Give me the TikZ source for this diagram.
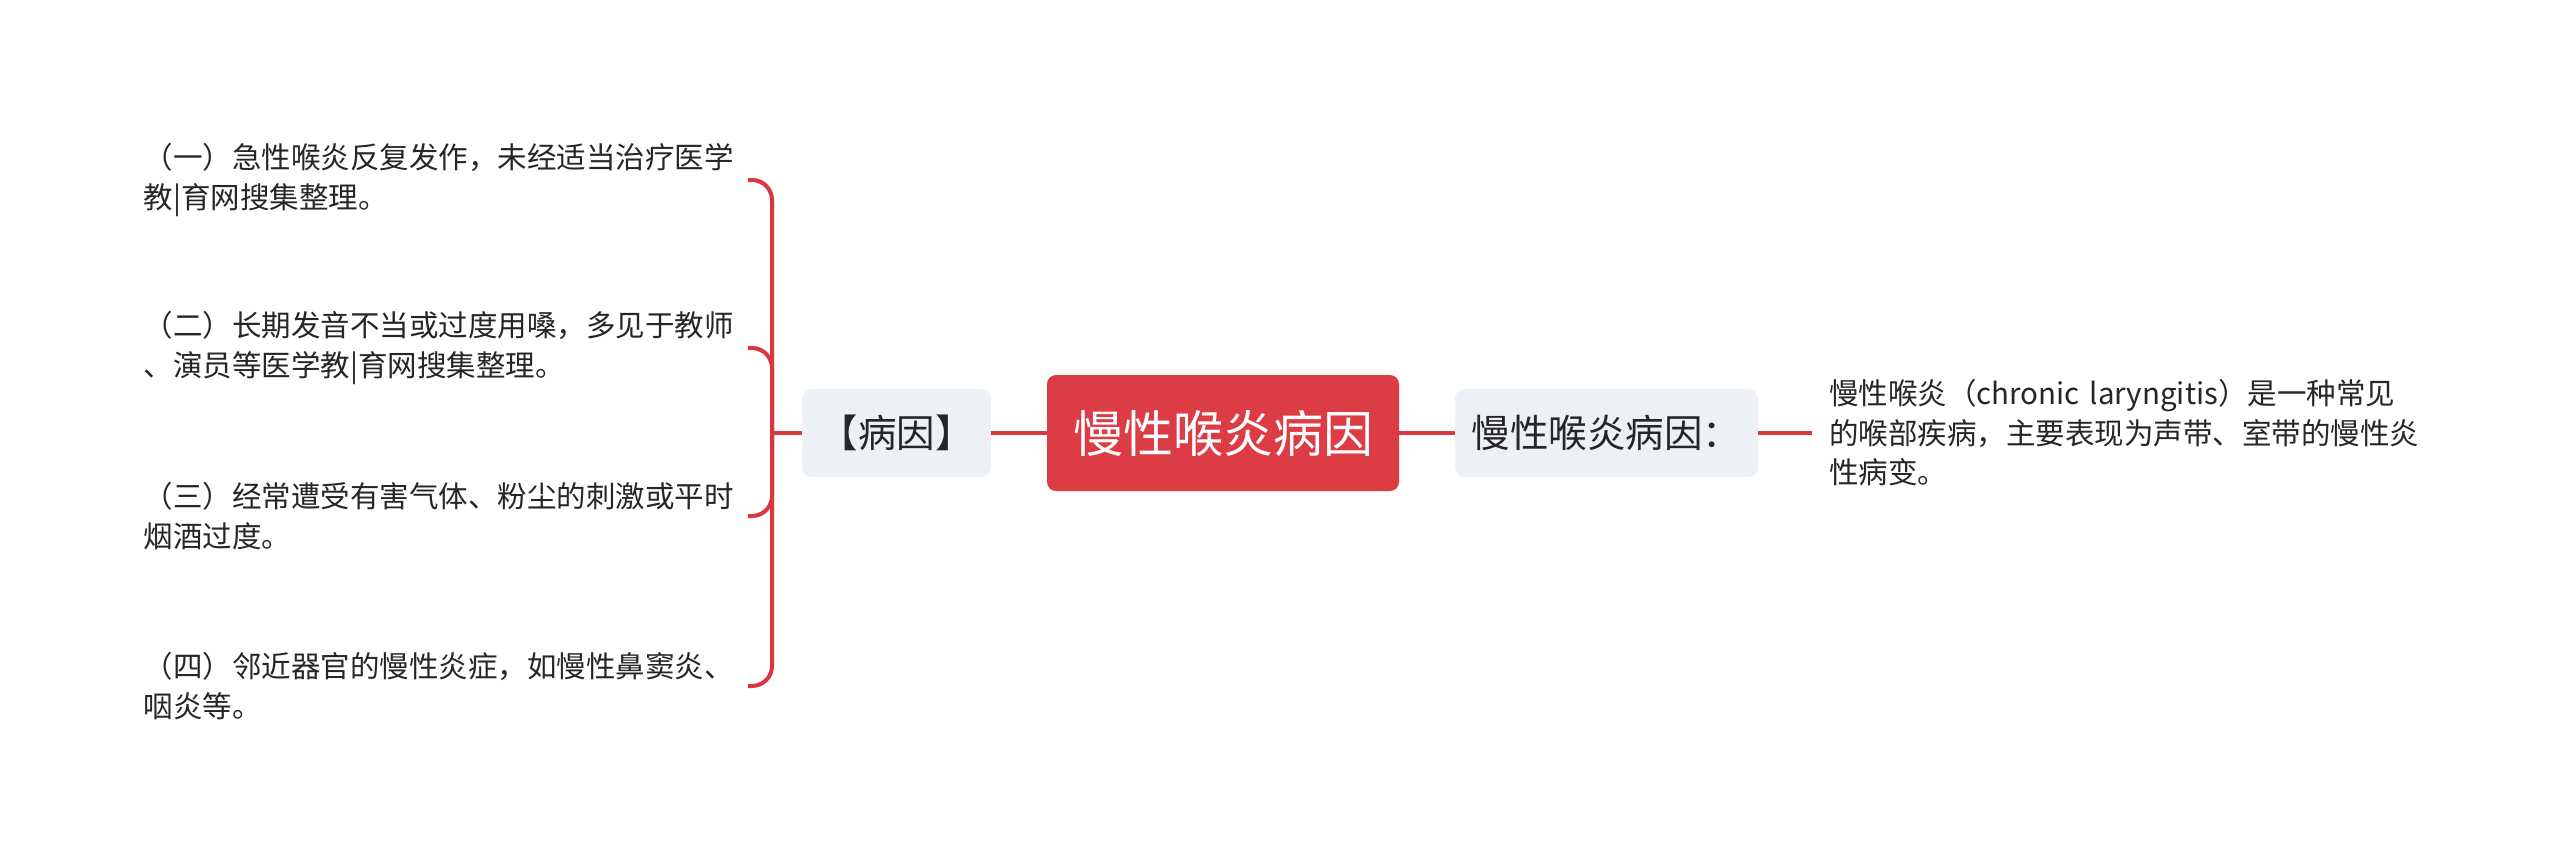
\documentclass[tikz,border=0pt]{standalone}
\usepackage{fontspec}
\setmainfont{Noto Sans CJK SC}
\definecolor{linered}{HTML}{D9363E}
\definecolor{mainred}{HTML}{DC3C44}
\definecolor{boxgray}{HTML}{EDF1F5}
\definecolor{txt}{HTML}{262626}
\begin{document}
\begin{tikzpicture}[x=1pt,y=-1pt,
  conn/.style={draw=linered,line width=4pt},
  mainbox/.style={fill=mainred,rounded corners=9pt,minimum width=352pt,minimum height=116pt,inner sep=0pt,text=white,font=\fontsize{50}{60}\selectfont},
  subbox/.style={fill=boxgray,rounded corners=10pt,minimum height=88pt,inner sep=0pt,text=txt,font=\fontsize{38.5}{44}\selectfont},
  leaf/.style={text width=604pt,align=left,inner sep=0pt,text=txt,font=\fontsize{29.5}{39.5}\selectfont}]
\useasboundingbox (0,0) rectangle (2560,865);
\fill[white] (0,0) rectangle (2560,865);

\node[mainbox] (c) at (1223,433) {慢性喉炎病因};
\node[subbox,minimum width=189pt] (b) at (896.5,433) {【病因】};
\node[subbox,minimum width=303pt] (r) at (1606.5,433) {慢性喉炎病因：};

\node[leaf,anchor=east] (l1) at (748,180) {（一）急性喉炎反复发作，未经适当治疗医学\\教|育网搜集整理。};
\node[leaf,anchor=east] (l2) at (748,348) {（二）长期发音不当或过度用嗓，多见于教师\\、演员等医学教|育网搜集整理。};
\node[leaf,anchor=east] (l3) at (748,516) {（三）经常遭受有害气体、粉尘的刺激或平时\\烟酒过度。};
\node[leaf,anchor=east] (l4) at (748,686) {（四）邻近器官的慢性炎症，如慢性鼻窦炎、\\咽炎等。};

\node[leaf,text width=640pt,anchor=west,inner xsep=17pt] (d) at (1812,433) {慢性喉炎（chronic laryngitis）是一种常见\\的喉部疾病，主要表现为声带、室带的慢性炎\\性病变。};

\coordinate (j) at (772,433);
\draw[conn] (c.west) -- (b.east);
\draw[conn] (c.east) -- (r.west);
\draw[conn] (r.east) -- (d.west);
\draw[conn] (b.west) -- (j);
\foreach \n in {l1,l2,l3,l4}
  \draw[conn,rounded corners=20pt] (\n.east) -| (j);
\end{tikzpicture}
\end{document}
